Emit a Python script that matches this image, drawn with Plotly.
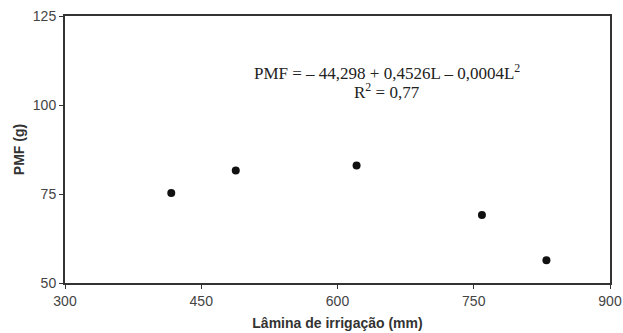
import plotly.graph_objects as go

lamina = [417, 488, 621, 759, 830]
pmf = [75.3, 81.6, 83.0, 69.1, 56.4]
x_ticks = [300, 450, 600, 750, 900]
y_ticks = [50, 75, 100, 125]
equation_lines = ["PMF = – 44,298 + 0,4526L – 0,0004L<sup>2</sup>",
                  "R<sup>2</sup> = 0,77"]

fig = go.Figure()
fig.add_trace(go.Scatter(
    x=lamina, y=pmf, mode="markers",
    marker=dict(size=8, color="#111111"),
    showlegend=False, cliponaxis=False,
))

axis_common = dict(
    showgrid=False, zeroline=False, showline=True, mirror=True,
    linecolor="#333333", linewidth=2, automargin=False,
    ticks="outside", ticklen=4, tickwidth=1, tickcolor="#333333",
    tickfont=dict(family="Liberation Sans, Arial", size=14, color="#444444"),
)

fig.update_xaxes(
    range=[300, 900], tickvals=x_ticks, ticktext=[str(v) for v in x_ticks],
    title=dict(text="<b>Lâmina de irrigação (mm)</b>", standoff=10,
               font=dict(family="Liberation Sans, Arial", size=14, color="#333333")),
    **axis_common,
)
fig.update_yaxes(
    range=[50, 125], tickvals=y_ticks, ticktext=[str(v) for v in y_ticks],
    title=dict(text="<b>PMF (g)</b>", standoff=5,
               font=dict(family="Liberation Sans, Arial", size=14, color="#333333")),
    **axis_common,
)

pw, ph = 623 - 65 - 13, 333 - 16 - 50
for txt, ypx in zip(equation_lines, [72, 91]):
    fig.add_annotation(
        x=(387 - 65) / pw, y=1 - (ypx - 16) / ph,
        xref="paper", yref="paper", showarrow=False,
        xanchor="center", yanchor="middle",
        text=txt,
        font=dict(family="Liberation Serif, Times New Roman", size=17, color="#222222"),
    )

fig.update_layout(
    width=623, height=333,
    margin=dict(l=65, r=13, t=16, b=50),
    paper_bgcolor="white", plot_bgcolor="white",
)

fig.write_html("out.html")
